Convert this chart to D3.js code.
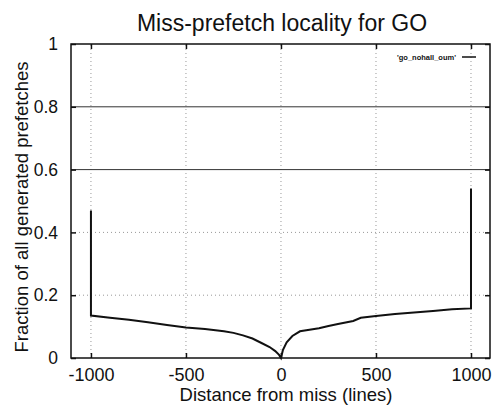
<!DOCTYPE html>
<html>
<head>
<meta charset="utf-8">
<script src="https://cdn.jsdelivr.net/npm/d3@7"></script>
<style>
  body { margin: 0; background: #fff; }
  text { font-family: "Liberation Sans", Arial, sans-serif; fill: #111; }
  .grid line { stroke: #999; stroke-dasharray: 1 3; }
  .grid .strong { stroke: #333; stroke-dasharray: none; stroke-width: 1; }
  .frame { fill: none; stroke: #111; stroke-width: 1.5; }
  .curve { fill: none; stroke: #111; stroke-width: 2; }
</style>
</head>
<body>
<div id="chart"></div>
<script>
// distance from miss (lines) and fraction of all generated prefetches
const distance = [-1000, -1000, -900, -800, -700, -600, -500, -400, -300, -250, -200, -150, -100, -60, -30, -10, 0,
  10, 30, 60, 100, 150, 200, 250, 300, 380, 420, 500, 600, 700, 800, 900, 1000, 1000];
const fraction = [0.47, 0.135, 0.128, 0.122, 0.114, 0.105, 0.097, 0.092, 0.085, 0.08, 0.072, 0.062, 0.047, 0.035, 0.022, 0.01, 0.0,
  0.025, 0.05, 0.07, 0.085, 0.09, 0.095, 0.102, 0.108, 0.118, 0.128, 0.134, 0.14, 0.145, 0.15, 0.155, 0.158, 0.54];

const xTicks = [-1000, -500, 0, 500, 1000];
const yTicks = [0, 0.2, 0.4, 0.6, 0.8, 1];
const strongGrid = [0.6, 0.8];
const seriesName = "'go_nohall_oum'";

const width = 494, height = 412;
const margin = { top: 44, right: 4, bottom: 54, left: 71 };

const svg = d3.select('#chart').append('svg')
  .attr('width', width)
  .attr('height', height);

const x = d3.scaleLinear().domain([-1105, 1100]).range([margin.left, width - margin.right]);
const y = d3.scaleLinear().domain([0, 1]).range([height - margin.bottom, margin.top]);

// grid
const grid = svg.append('g').attr('class', 'grid');
grid.selectAll('.gx').data(xTicks).enter().append('line')
  .attr('x1', d => x(d)).attr('x2', d => x(d))
  .attr('y1', y(0)).attr('y2', y(1));
grid.selectAll('.gy').data(yTicks.filter(d => d > 0 && d < 1)).enter().append('line')
  .attr('class', d => strongGrid.includes(d) ? 'strong' : null)
  .attr('x1', x.range()[0]).attr('x2', x.range()[1])
  .attr('y1', d => y(d)).attr('y2', d => y(d));

// axes (ticks inward, mirrored)
const xAxis = d3.axisBottom(x).tickValues(xTicks).tickSizeInner(-5).tickSizeOuter(0).tickPadding(10)
  .tickFormat(d => String(d));
const yAxis = d3.axisLeft(y).tickValues(yTicks).tickSizeInner(-5).tickSizeOuter(0).tickPadding(13)
  .tickFormat(d => d === 0 || d === 1 ? String(d) : d.toFixed(1));

const gx = svg.append('g').attr('transform', `translate(0,${y(0)})`).call(xAxis);
gx.select('.domain').remove();
gx.selectAll('text').attr('font-size', 18).attr('dy', '0.74em');

const gy = svg.append('g').attr('transform', `translate(${x.range()[0]},0)`).call(yAxis);
gy.select('.domain').remove();
gy.selectAll('text').attr('font-size', 17.5);

// mirrored ticks on top and right
svg.append('g').attr('transform', `translate(0,${y(1)})`)
  .call(d3.axisTop(x).tickValues(xTicks).tickSizeInner(-5).tickSizeOuter(0).tickFormat(''))
  .select('.domain').remove();
svg.append('g').attr('transform', `translate(${x.range()[1]},0)`)
  .call(d3.axisRight(y).tickValues(yTicks).tickSizeInner(-5).tickSizeOuter(0).tickFormat(''))
  .select('.domain').remove();

svg.selectAll('.tick line').attr('stroke', '#111').attr('stroke-width', 1.5);

// frame
svg.append('rect').attr('class', 'frame')
  .attr('x', x.range()[0]).attr('y', y(1))
  .attr('width', x.range()[1] - x.range()[0])
  .attr('height', y(0) - y(1));

// curve
const pts = distance.map((d, i) => [d, fraction[i]]);
svg.append('path').attr('class', 'curve')
  .attr('d', d3.line().x(d => x(d[0])).y(d => y(d[1]))(pts));

// legend
const lg = svg.append('g').attr('transform', `translate(${x.range()[1] - 28},${y(1) + 13})`);
lg.append('text').attr('x', -6).attr('dy', '0.35em').attr('text-anchor', 'end')
  .attr('font-size', 7.5).attr('font-weight', 'bold').text(seriesName);
lg.append('line').attr('x1', 0).attr('x2', 14).attr('stroke', '#111').attr('stroke-width', 1.5);

// titles
svg.append('text').attr('x', 282).attr('y', 31).attr('text-anchor', 'middle')
  .attr('font-size', 23).text('Miss-prefetch locality for GO');
svg.append('text').attr('x', 286).attr('y', 401).attr('text-anchor', 'middle')
  .attr('font-size', 18.5).text('Distance from miss (lines)');
svg.append('text').attr('transform', `translate(28,${(y(0) + y(1)) / 2 + 6}) rotate(-90)`)
  .attr('text-anchor', 'middle').attr('font-size', 18.5).text('Fraction of all generated prefetches');
</script>
</body>
</html>
